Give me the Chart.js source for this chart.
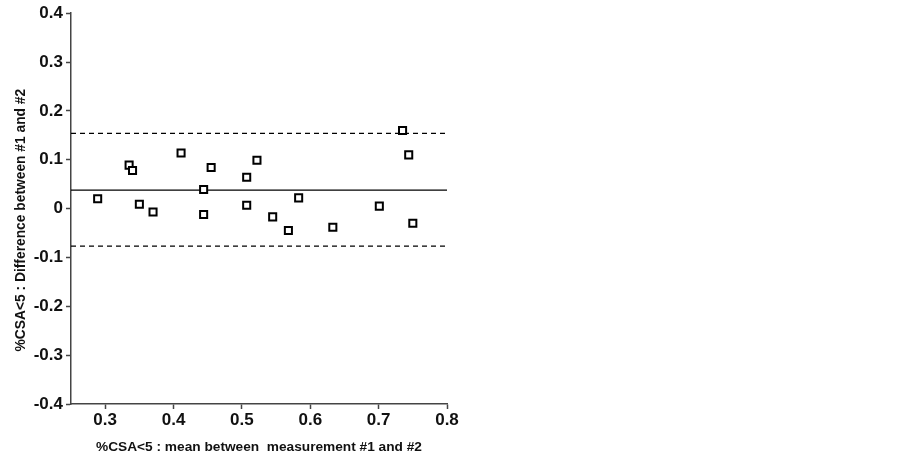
<!DOCTYPE html>
<html>
<head>
<meta charset="utf-8">
<script src="https://cdn.jsdelivr.net/npm/chart.js@4/dist/chart.umd.min.js"></script>
<style>
    body { margin: 0; background: #fff; }
</style>
</head>
<body>
<canvas id="baChart" width="902" height="457"></canvas>
<script>
// mean of the two measurements (x) and their difference (y)
const meanValues = [0.289, 0.335, 0.340, 0.350, 0.370, 0.411, 0.444, 0.444, 0.455, 0.507,
                    0.507, 0.522, 0.545, 0.568, 0.583, 0.633, 0.701, 0.735, 0.744, 0.750];
const diffValues = [0.020, 0.089, 0.078, 0.009, -0.007, 0.114, 0.039, -0.012, 0.084, 0.064,
                    0.007, 0.099, -0.017, -0.045, 0.022, -0.038, 0.005, 0.160, 0.110, -0.030];

const biasLine = 0.038;      // mean difference
const upperLimit = 0.154;    // upper limit of agreement
const lowerLimit = -0.077;   // lower limit of agreement
const lineRange = [0.25, 0.8];

const xTicks = [0.3, 0.4, 0.5, 0.6, 0.7, 0.8];
const yTicks = [-0.4, -0.3, -0.2, -0.1, 0, 0.1, 0.2, 0.3, 0.4];

const fontFamily = '"Liberation Sans", Arial, Helvetica, sans-serif';

const hLine = (y) => lineRange.map(x => ({ x: x, y: y }));

const ctx = document.getElementById('baChart').getContext('2d');
new Chart(ctx, {
    type: 'scatter',
    data: {
        datasets: [{
            label: 'points',
            data: meanValues.map((x, i) => ({ x: x, y: diffValues[i] })),
            pointStyle: 'rect',
            pointRadius: 5,
            pointBorderWidth: 2,
            pointBackgroundColor: '#fff',
            pointBorderColor: '#000'
        }, {
            label: 'bias',
            type: 'line',
            data: hLine(biasLine),
            borderColor: '#000',
            borderWidth: 1.2,
            pointRadius: 0
        }, {
            label: 'upper',
            type: 'line',
            data: hLine(upperLimit),
            borderColor: '#000',
            borderWidth: 1.2,
            borderDash: [5, 4],
            pointRadius: 0
        }, {
            label: 'lower',
            type: 'line',
            data: hLine(lowerLimit),
            borderColor: '#000',
            borderWidth: 1.2,
            borderDash: [5, 4],
            pointRadius: 0
        }]
    },
    options: {
        responsive: false,
        animation: false,
        layout: {
            padding: { top: 12, right: 455, bottom: 0, left: 0 }
        },
        plugins: {
            legend: { display: false },
            tooltip: { enabled: false }
        },
        scales: {
            x: {
                type: 'linear',
                min: 0.25,
                max: 0.8,
                afterBuildTicks: (scale) => { scale.ticks = xTicks.map(v => ({ value: v })); },
                afterFit: (scale) => { scale.height = 53; },
                border: { color: '#444', width: 1.5 },
                grid: { drawOnChartArea: false, tickLength: 5, tickColor: '#444', tickWidth: 1.5 },
                ticks: {
                    padding: 1,
                    color: '#111',
                    font: { family: fontFamily, size: 17, weight: 'bold' },
                    callback: (v) => String(v)
                },
                title: {
                    display: true,
                    text: '%CSA<5 : mean between  measurement #1 and #2',
                    color: '#111',
                    font: { family: fontFamily, size: 13.7, weight: 'bold' },
                    padding: { top: 0, bottom: 1.5 }
                }
            },
            y: {
                type: 'linear',
                min: -0.4,
                max: 0.4,
                afterBuildTicks: (scale) => { scale.ticks = yTicks.map(v => ({ value: v })); },
                afterFit: (scale) => { scale.width = 71; },
                border: { color: '#444', width: 1.5 },
                grid: { drawOnChartArea: false, tickLength: 5, tickColor: '#444', tickWidth: 1.5 },
                ticks: {
                    padding: 3,
                    color: '#111',
                    font: { family: fontFamily, size: 17, weight: 'bold' },
                    callback: (v) => String(v)
                },
                title: {
                    display: true,
                    // trailing spaces push the title a little below the axis middle, as in the original
                    text: '%CSA<5 : Difference between #1 and #2      ',
                    color: '#111',
                    font: { family: fontFamily, size: 13.8, weight: 'bold' },
                    padding: { top: 12.5, bottom: 0 }
                }
            }
        }
    }
});
</script>
</body>
</html>
